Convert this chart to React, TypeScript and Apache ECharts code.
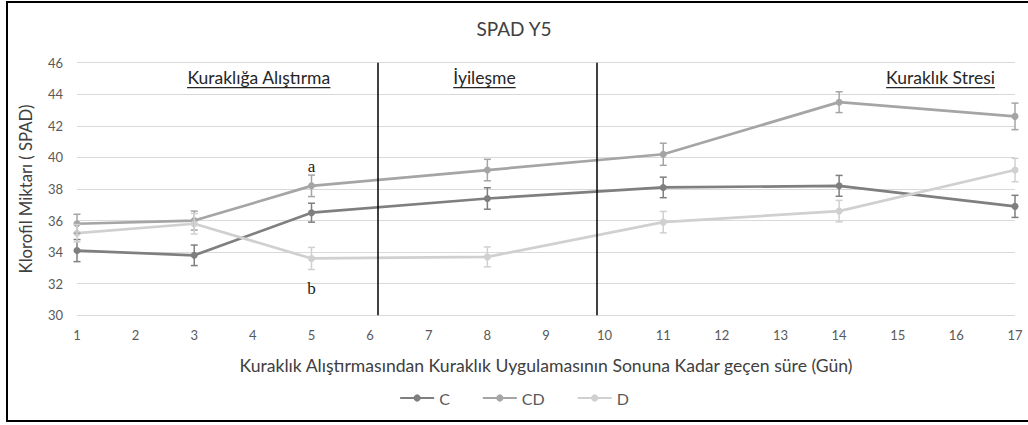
import React, { useEffect, useRef } from "react";
import * as echarts from "echarts";

const days = [1, 3, 5, 8, 11, 14, 17];
const cValues = [34.1, 33.8, 36.5, 37.4, 38.1, 38.2, 36.9];
const cdValues = [35.8, 36.0, 38.2, 39.2, 40.2, 43.5, 42.6];
const dValues = [35.2, 35.8, 33.6, 33.7, 35.9, 36.6, 39.2];
const cErr = [0.7, 0.65, 0.6, 0.68, 0.65, 0.66, 0.7];
const cdErr = [0.6, 0.6, 0.68, 0.68, 0.7, 0.66, 0.84];
const dErr = [0.55, 0.65, 0.7, 0.63, 0.68, 0.68, 0.74];
const seriesNames = ["C", "CD", "D"];
const phaseBoundaries = [6.13, 9.87];
const phaseLabels = ["Kuraklığa Alıştırma", "İyileşme", "Kuraklık Stresi"];
const phaseLabelX = [4.1, 7.95, 15.73];
const phaseLabelY = 45.05;
const letterMarks = [
  { text: "a", x: 5, y: 39.45 },
  { text: "b", x: 5, y: 31.72 },
];

const colors = ["#7f7f7f", "#a5a5a5", "#d0d0d0"];
const FONT = "Lato, 'Noto Sans', sans-serif";
const SECTION_SIZE = 17.5;

function measure(text: string, font: string) {
  const c = document.createElement("canvas").getContext("2d")!;
  c.font = font;
  return c.measureText(text).width;
}

export default function App() {
  const ref = useRef<HTMLDivElement>(null);
  useEffect(() => {
    const chart = echarts.init(ref.current!, null, { renderer: "svg" });
    const valueSets = [cValues, cdValues, dValues];
    const errSets = [cErr, cdErr, dErr];

    const lineSeries = seriesNames.map((name, i) => ({
      name,
      type: "line",
      data: days.map((d, j) => [d, valueSets[i][j]]),
      symbol: "circle",
      symbolSize: 7,
      z: 3,
      itemStyle: { color: colors[i] },
      lineStyle: { color: colors[i], width: 2.7 },
      ...(i === 0
        ? {
            markLine: {
              silent: true,
              symbol: "none",
              label: { show: false },
              lineStyle: { color: "#000", width: 1.5, type: "solid" },
              data: phaseBoundaries.map((x) => ({ xAxis: x })),
            },
          }
        : {}),
    }));

    const errSeries = seriesNames.map((name, i) => ({
      name: name + " err",
      type: "custom",
      z: 4,
      data: days.map((d, j) => [d, valueSets[i][j], errSets[i][j]]),
      encode: { x: 0, y: 1 },
      renderItem: (params: any, api: any) => {
        const x = api.value(0);
        const y = api.value(1);
        const e = api.value(2);
        const top = api.coord([x, y + e]);
        const bot = api.coord([x, y - e]);
        const h = 3.5;
        const st = { stroke: colors[i], lineWidth: 1.5 };
        return {
          type: "group",
          children: [
            { type: "line", shape: { x1: top[0], y1: top[1], x2: bot[0], y2: bot[1] }, style: st },
            { type: "line", shape: { x1: top[0] - h, y1: top[1], x2: top[0] + h, y2: top[1] }, style: st },
            { type: "line", shape: { x1: bot[0] - h, y1: bot[1], x2: bot[0] + h, y2: bot[1] }, style: st },
          ],
        };
      },
    }));

    chart.setOption({
      animation: false,
      backgroundColor: "#ffffff",
      title: {
        text: "SPAD Y5",
        left: "center",
        top: 14,
        textStyle: { fontFamily: FONT, fontSize: 19, fontWeight: "normal", color: "#404040" },
      },
      legend: {
        data: seriesNames,
        top: 385,
        left: "center",
        itemWidth: 34,
        itemHeight: 9,
        itemGap: 32,
        textStyle: { fontFamily: FONT, fontSize: 16, color: "#595959" },
      },
      grid: { left: 77, right: 13, top: 62.7, bottom: 109.7 },
      xAxis: {
        type: "value",
        min: 1,
        max: 17,
        interval: 1,
        name: "Kuraklık Alıştırmasından Kuraklık Uygulamasının Sonuna Kadar geçen süre (Gün)",
        nameLocation: "middle",
        nameGap: 41,
        nameTextStyle: { fontFamily: FONT, fontSize: 17.6, color: "#404040" },
        axisLine: { show: false },
        axisTick: { show: false },
        splitLine: { show: false },
        axisLabel: { fontFamily: FONT, fontSize: 13, color: "#595959", margin: 13 },
      },
      yAxis: {
        type: "value",
        min: 30,
        max: 46,
        interval: 2,
        name: "Klorofil Miktarı ( SPAD)",
        nameLocation: "middle",
        nameRotate: 90,
        nameGap: 43,
        nameTextStyle: { fontFamily: FONT, fontSize: 16.7, color: "#404040" },
        axisLine: { show: false },
        axisTick: { show: false },
        splitLine: { lineStyle: { color: "#d9d9d9", width: 1 } },
        axisLabel: { fontFamily: FONT, fontSize: 13, color: "#595959", margin: 14 },
      },
      series: [...lineSeries, ...errSeries],
    });

    const labelFont = `${SECTION_SIZE}px Lato`;
    const graphics: any[] = [
      {
        type: "rect",
        shape: { x: 7, y: 2, width: 1040, height: 419 },
        style: { fill: "none", stroke: "#000", lineWidth: 2 },
        silent: true,
      },
    ];
    phaseLabels.forEach((t, i) => {
      const p = chart.convertToPixel({ gridIndex: 0 }, [phaseLabelX[i], phaseLabelY]);
      const w = measure(t, labelFont);
      graphics.push({
        type: "text",
        x: p[0],
        y: p[1],
        style: {
          text: t,
          fontFamily: FONT,
          fontSize: SECTION_SIZE,
          fill: "#262626",
          align: "center",
          verticalAlign: "middle",
        },
      });
      graphics.push({
        type: "line",
        shape: { x1: p[0] - w / 2, y1: p[1] + 10, x2: p[0] + w / 2, y2: p[1] + 10 },
        style: { stroke: "#262626", lineWidth: 1.3 },
      });
    });
    letterMarks.forEach((m) => {
      const p = chart.convertToPixel({ gridIndex: 0 }, [m.x, m.y]);
      graphics.push({
        type: "text",
        x: p[0],
        y: p[1],
        style: {
          text: m.text,
          fontFamily: "'Liberation Serif', 'DejaVu Serif', serif",
          fontSize: 17,
          fill: "#1a1a1a",
          align: "center",
          verticalAlign: "middle",
        },
      });
    });
    chart.setOption({ graphic: graphics });

    return () => chart.dispose();
  }, []);
  return (
    <div
      ref={ref}
      style={{ position: "absolute", left: 0, top: 0, width: 1028, height: 425 }}
    />
  );
}
